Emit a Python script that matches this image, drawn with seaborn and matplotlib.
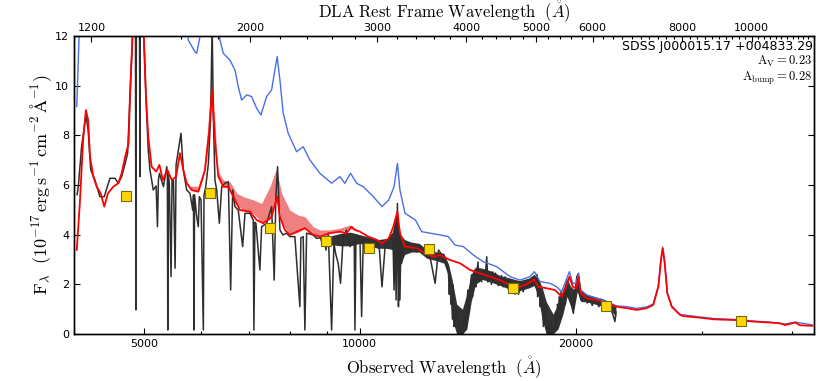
import numpy as np
import pandas as pd
import matplotlib
matplotlib.use('Agg')
import matplotlib.pyplot as plt
import seaborn as sns
from matplotlib.ticker import FixedLocator, FixedFormatter, NullFormatter, MultipleLocator

sns.set_style('ticks')
plt.rcParams.update({
    'font.family': ['DejaVu Sans'],
    'mathtext.fontset': 'cm',
    'text.color': 'black', 'axes.labelcolor': 'black', 'axes.edgecolor': 'black',
    'xtick.color': 'black', 'ytick.color': 'black',
    'xtick.direction': 'in', 'ytick.direction': 'in',
    'xtick.top': True, 'ytick.right': True,
    'xtick.major.size': 4, 'ytick.major.size': 4,
    'xtick.minor.size': 2.5, 'ytick.minor.size': 2.5,
    'xtick.minor.width': 0.8, 'xtick.major.width': 0.8, 'ytick.major.width': 0.8,
    'xtick.labelsize': 8, 'ytick.labelsize': 8,
    'axes.linewidth': 1.0,
})

ZF = 3.52  # 1 + z of the DLA

# observed spectrum (black)
wave_obs = [4034, 4050, 4093, 4150, 4180, 4215, 4272, 4341, 4402, 4483, 4557, 4605, 4655, 4708,
            4745, 4781, 4818, 4840, 4865, 4873, 4881, 4928, 4936, 4944, 4984, 5000, 5033, 5070,
            5098, 5152, 5200, 5222, 5238, 5255, 5323, 5380, 5391, 5398, 5407, 5425, 5455, 5473,
            5497, 5527, 5544, 5585, 5632, 5674, 5736, 5797, 5848, 5863, 5872, 5883, 5923, 5954,
            5973, 6006, 6051, 6064, 6098, 6150, 6191, 6201, 6225, 6247, 6281, 6316, 6370, 6419,
            6487, 6557, 6606, 6649, 6698, 6769, 6865, 6917, 7027, 7102, 7118, 7141, 7164, 7256,
            7296, 7414, 7534, 7597, 7638, 7680, 7738, 7812, 7906, 7989, 8118, 8250, 8277, 8338,
            8384, 8430, 8610, 8705, 8798, 8942, 8971, 9038, 9135, 9202, 9260, 9330, 9401, 9480,
            9583, 9688, 9823, 9845, 9877, 9918, 10004, 10059, 10112, 10278, 10400, 10563, 10650,
            10738, 10856, 11015, 11125, 11163, 11200, 11237, 11285, 11322, 11348, 11375, 11413,
            11439, 11488, 11630, 11750, 11888, 12000, 12133, 12333, 12529, 12737, 12876, 13075,
            13290, 13330, 13360, 13400, 13433, 13470, 13490, 13530, 13578, 13620, 13665, 13700,
            13723, 13760, 13800, 13840, 13890, 13942, 13980, 14020, 14060, 14094, 14120, 14150,
            14200, 14247, 14280, 14320, 14360, 14399, 14440, 14480, 14520, 14556, 14615, 14660,
            14710, 14780, 14868, 14950, 15031, 15090, 15140, 15192, 15260, 15330, 15400, 15460,
            15524, 15600, 15686, 15760, 15850, 15940, 16030, 16120, 16200, 16290, 16373, 16460,
            16550, 16640, 16727, 16800, 16900, 17000, 17089, 17180, 17300, 17400, 17500, 17600,
            17650, 17700, 17744, 17800, 17850, 17900, 17934, 17980, 18030, 18080, 18130, 18180,
            18230, 18280, 18327, 18380, 18430, 18500, 18560, 18620, 18715, 18780, 18820, 18870,
            18917, 18970, 19020, 19080, 19130, 19227, 19300, 19350, 19400, 19477, 19560, 19640,
            19720, 19855, 19950, 20075, 20180, 20250, 20330, 20450, 20615, 20750, 20941, 21100,
            21250, 21398, 21550, 21700, 21858, 22000, 22150, 22330, 22500, 22690, 22763]
flux_obs = [5.60, 5.93, 7.54, 8.82, 8.22, 6.61, 6.20, 5.53, 5.53, 6.27, 6.27, 6.07, 6.34, 6.87,
            7.28, 9.56, 11.84, 14.0, 14.0, 0.97, 14.0, 14.0, 6.34, 14.0, 13.0, 11.84, 9.56, 7.41,
            6.61, 5.80, 5.96, 4.32, 6.20, 6.47, 5.93, 6.74, 6.40, 0.16, 6.40, 6.07, 2.31, 6.20,
            6.20, 2.65, 6.81, 7.41, 8.08, 6.61, 5.80, 5.67, 4.99, 5.60, 0.16, 5.60, 4.72, 4.32,
            5.53, 5.40, 0.16, 5.60, 5.93, 6.87, 8.60, 9.56, 12.5, 8.89, 6.20, 5.80, 4.46, 5.93,
            6.07, 6.13, 1.77, 5.80, 5.13, 4.99, 3.52, 4.86, 4.86, 4.59, 0.16, 4.50, 4.46, 2.58,
            4.32, 4.46, 5.13, 2.17, 5.53, 6.74, 4.19, 3.99, 4.06, 3.92, 3.92, 1.10, 3.87, 3.92,
            0.16, 4.06, 3.99, 3.85, 3.87, 3.65, 3.38, 4.06, 0.16, 3.65, 3.20, 2.85, 2.04, 3.92,
            4.19, 3.52, 3.79, 0.16, 3.79, 3.92, 3.92, 0.70, 3.79, 3.79, 3.55, 3.65, 3.40,
            1.90, 3.65, 3.92, 3.79, 1.77, 4.39, 1.37, 5.26, 1.10, 4.19, 1.37, 3.79,
            2.85, 3.58, 3.65, 3.35, 3.52, 3.30, 3.52, 3.25, 3.11, 2.04, 3.38, 3.11,
            2.58, 1.60, 2.30, 1.20, 1.50, 0.60, 1.97, 0.30, 0.43, 1.10, 0.97, 0.10,
            0.03, 0.60, 0.10, 0.36, 0.05, 0.03, 0.50, 0.77, 0.20, 0.70, 1.40, 1.77,
            0.90, 1.50, 2.10, 2.38, 1.50, 1.90, 2.40, 2.58, 1.90, 2.31, 2.90, 2.10,
            2.44, 2.10, 2.58, 2.20, 3.11, 2.09, 2.50, 2.31, 2.00, 2.50, 2.10, 2.45,
            2.31, 1.95, 2.04, 2.35, 1.90, 2.30, 2.17, 1.80, 2.20, 1.70, 1.90, 1.60,
            2.05, 1.60, 1.77, 2.00, 1.70, 2.05, 1.90, 1.90, 2.20, 2.00, 2.31, 1.90,
            2.40, 1.50, 1.64, 2.10, 1.10, 1.70, 0.97, 1.40, 0.30, 1.20, 0.43, 0.90,
            0.05, 0.60, 0.03, 0.40, 0.02, 0.50, 0.05, 0.30, 0.16, 0.90, 0.20, 1.20,
            0.70, 1.50, 0.60, 1.70, 0.90, 1.10, 1.80, 1.20, 2.00, 2.17, 1.50, 1.64,
            1.20, 0.83, 1.60, 2.31, 2.44, 1.70, 1.37, 1.70, 1.50, 1.25, 1.37, 1.15,
            1.45, 1.30, 1.10, 1.40, 1.24, 0.95, 1.30, 1.04, 0.85, 0.50, 0.90]

# spread of the noisy near-IR part of the observed spectrum
env_wave = [8800, 9100, 9400, 9700, 10000, 10300, 10600, 10900, 11100, 11250, 11400, 11550,
            11800, 12100, 12400, 12800, 13100, 13300, 13450, 13650, 13900, 14100, 14300, 14500,
            14800, 15200, 15700, 16200, 16700, 17200, 17500, 17750, 17950, 18200, 18600, 18900,
            19200, 19450, 19700, 19900, 20100, 20350, 20700, 21300, 21900, 22400, 22760]
env_lo = [3.75, 3.60, 3.55, 3.55, 3.65, 3.55, 3.45, 3.45, 3.40, 3.00, 2.80, 3.20,
          3.30, 3.30, 3.05, 2.95, 2.85, 2.30, 0.60, 0.00, 0.00, 0.20, 1.30, 2.00,
          2.20, 2.10, 1.95, 1.80, 1.75, 1.85, 1.95, 1.50, 0.60, 0.00, 0.00, 0.20,
          0.80, 1.50, 1.10, 1.00, 1.70, 1.30, 1.30, 1.20, 1.10, 0.95, 0.70]
env_hi = [3.95, 3.95, 4.05, 4.10, 4.00, 3.90, 3.80, 3.85, 4.10, 4.90, 4.00, 3.80,
          3.70, 3.65, 3.40, 3.30, 3.25, 2.80, 2.20, 1.20, 1.00, 1.60, 2.40, 2.70,
          2.65, 2.55, 2.35, 2.25, 2.15, 2.25, 2.40, 2.20, 1.90, 1.30, 0.80, 1.20,
          1.80, 2.20, 1.90, 1.80, 2.30, 1.70, 1.60, 1.50, 1.40, 1.25, 1.10]

# reddened model (red)
wave_model = [4030, 4070, 4113, 4150, 4180, 4205, 4250, 4297, 4351, 4402, 4455, 4531, 4605, 4655,
              4708, 4760, 4781, 4818, 4870, 5000, 5033, 5070, 5125, 5200, 5255, 5313, 5391, 5467,
              5544, 5614, 5674, 5736, 5829, 5954, 6084, 6169, 6221, 6281, 6349, 6452, 6557, 6662,
              6806, 7027, 7180, 7333, 7534, 7670, 7738, 7862, 7989, 8163, 8384, 8610, 8798, 9084,
              9380, 9583, 9741, 9845, 10004, 10278, 10563, 10738, 10976, 11137, 11285, 11375,
              11565, 12022, 12333, 12666, 12935, 13360, 13795, 14247, 14710, 15192, 15686, 16200,
              16727, 17180, 17500, 17744, 18230, 18715, 19125, 19395, 19604, 19817, 20030, 20180,
              20330, 20728, 21398, 22100, 22815, 23560, 24330, 25120, 25660, 26080, 26305, 26450,
              26620, 26845, 27225, 27960, 28260, 29510, 31200, 33530, 35380, 37300, 38545, 39200,
              40500, 41100, 42810]
flux_model = [3.38, 5.26, 7.81, 9.02, 8.62, 7.14, 6.34, 5.93, 5.67, 5.13, 5.67, 5.93, 6.07, 6.47,
              7.14, 7.68, 9.56, 11.84, 18.0, 11.84, 9.56, 7.95, 6.74, 6.54, 6.81, 6.20, 6.61, 6.20,
              6.34, 7.28, 6.61, 6.07, 5.80, 5.73, 6.61, 8.22, 9.83, 7.81, 6.34, 5.93, 5.93, 5.53,
              4.99, 4.93, 4.59, 4.46, 4.72, 5.53, 4.72, 4.19, 3.99, 4.12, 4.26, 3.99, 3.92, 4.06,
              4.12, 4.06, 4.32, 4.19, 4.12, 3.92, 3.79, 3.65, 3.85, 4.32, 4.93, 4.06,
              3.52, 3.45, 3.25, 3.11, 3.18, 2.98, 2.85, 2.58, 2.44, 2.31, 2.17, 1.97,
              1.90, 2.04, 2.20, 1.90, 1.84, 1.77, 1.50, 1.90, 2.31, 1.90, 1.84, 2.31,
              1.64, 1.44, 1.37, 1.24, 1.10, 1.04, 0.97, 1.04, 1.17, 1.90, 2.98, 3.45,
              2.85, 1.64, 1.10, 0.77, 0.72, 0.67, 0.59, 0.56, 0.50, 0.46, 0.43, 0.36,
              0.46, 0.35, 0.33]

# intrinsic (unreddened) model (blue)
wave_intr = [4030, 4060, 4150, 4820, 5000, 5614, 5765, 5797, 5890, 5923, 5986, 6200, 6382, 6452,
             6591, 6698, 6769, 6843, 6955, 7066, 7180, 7280, 7414, 7534, 7614, 7670, 7738, 7820,
             7947, 8163, 8338, 8519, 8798, 9135, 9380, 9531, 9710, 9899, 10112, 10446, 10738,
             10976, 11163, 11285, 11375, 11565, 11955, 12200, 12529, 12935, 13290, 13578, 13942,
             14399, 14868, 15524, 16200, 16727, 17274, 17517, 17836, 18420, 18820, 19125, 19395,
             19604, 19817, 20030, 20180, 20330, 20728, 21398, 22100, 22815, 23560, 24330, 25120,
             25660, 26080, 26305, 26450, 26620, 26845, 27225, 27960, 29510, 31200, 33530, 35380,
             37300, 39200, 40500, 42810]
flux_intr = [9.15, 11.97, 22.0, 40.0, 25.0, 18.0, 11.84, 11.71, 11.37, 11.30, 11.97, 16.0, 11.84,
             11.30, 11.03, 10.63, 9.96, 9.42, 9.63, 9.56, 9.09, 8.82, 9.56, 9.83, 10.63, 11.17,
             10.23, 8.89, 8.08, 7.34, 7.54, 7.01, 6.47, 6.07, 6.34, 6.07, 6.47, 6.07, 5.93, 5.53,
             5.13, 5.40, 5.93, 6.87, 5.80, 4.86, 4.59, 4.12, 4.06, 3.99, 3.92, 3.58, 3.52, 3.18,
             2.91, 2.71, 2.31, 2.17, 2.31, 2.51, 2.11, 2.04, 1.90, 1.70, 2.17, 2.51, 2.04, 2.04,
             2.44, 1.77, 1.57, 1.44, 1.30, 1.13, 1.10, 1.03, 1.09, 1.21, 1.93, 3.02, 3.50, 2.88,
             1.65, 1.13, 0.79, 0.70, 0.62, 0.58, 0.52, 0.48, 0.40, 0.48, 0.36]

# model uncertainty band (pink)
band_wave = [5736, 5797, 5954, 6051, 6120, 6169, 6221, 6281, 6316, 6349, 6452, 6591, 6734, 6879,
             7102, 7296, 7493, 7638, 7670, 7780, 7989, 8205, 8384, 8610, 8798, 9084, 9380, 9688,
             10004]
band_lo = [6.07, 5.80, 5.73, 6.30, 7.30, 8.22, 9.83, 7.81, 6.90, 6.34, 5.93, 5.85, 5.20, 4.97,
           4.85, 4.50, 4.60, 5.30, 5.53, 4.50, 3.99, 4.10, 4.26, 3.99, 3.92, 4.06, 4.12, 4.25,
           4.12]
band_hi = [6.15, 5.95, 5.95, 6.55, 7.90, 9.20, 10.25, 8.60, 7.20, 6.55, 6.20, 6.13, 5.67, 5.53,
           5.40, 5.26, 5.93, 6.61, 6.50, 5.67, 4.99, 4.79, 4.72, 4.32, 4.19, 4.19, 4.26, 4.39,
           4.12]

# photometry (yellow squares)
phot_wave = [4723, 6181, 7493, 8962, 10312, 12500, 16373, 22048, 33970]
phot_flux = [5.57, 5.69, 4.26, 3.76, 3.45, 3.41, 1.86, 1.14, 0.54]

# axis ticks
obs_ticks = [5000, 10000, 20000]
obs_minor = [6000, 7000, 8000, 9000, 30000, 40000]
rest_ticks = [1200, 2000, 3000, 4000, 5000, 6000, 8000, 10000]

xmin, xmax = 3995, 42990

fig, ax = plt.subplots(figsize=(8.30, 3.81), dpi=100)
fig.subplots_adjust(left=0.0892, right=0.9807, bottom=0.1234, top=0.9055)
ax.set_xscale('log')

ax.fill_between(band_wave, band_lo, band_hi, color='#f08080', lw=0, zorder=1)
ax.fill_between(env_wave, env_lo, env_hi, color='#333333', lw=0, zorder=2)
obs = pd.DataFrame({'wave': wave_obs, 'flux': flux_obs})
sns.lineplot(data=obs, x='wave', y='flux', ax=ax, color='#2e2e2e', lw=1.1,
             estimator=None, sort=False, zorder=2)
intr = pd.DataFrame({'wave': wave_intr, 'flux': flux_intr})
sns.lineplot(data=intr, x='wave', y='flux', ax=ax, color='#4a6fe3', lw=1.0,
             estimator=None, sort=False, zorder=3)
mod = pd.DataFrame({'wave': wave_model, 'flux': flux_model})
sns.lineplot(data=mod, x='wave', y='flux', ax=ax, color='#ff0000', lw=1.3,
             estimator=None, sort=False, zorder=4)
phot = pd.DataFrame({'wave': phot_wave, 'flux': phot_flux})
sns.scatterplot(data=phot, x='wave', y='flux', ax=ax, marker='s', s=55,
                color='#ffd700', edgecolor='#7a6a10', linewidth=0.8, zorder=5)

ax.set_xlim(xmin, xmax)
ax.set_ylim(0, 12)
ax.set_yticks([0, 2, 4, 6, 8, 10, 12])
ax.xaxis.set_major_locator(FixedLocator(obs_ticks))
ax.xaxis.set_major_formatter(FixedFormatter([str(t) for t in obs_ticks]))
ax.xaxis.set_minor_locator(FixedLocator(obs_minor))
ax.xaxis.set_minor_formatter(NullFormatter())
ax.tick_params(axis='x', which='both', top=False, bottom=True, direction='in')
ax.tick_params(axis='y', which='both', left=True, right=True, direction='in')
ax.set_xlabel(r'$\mathrm{Observed\ Wavelength}\ \ (\mathring{A})$', fontsize=12, labelpad=4)
ax.set_ylabel(r'$\mathrm{F}_\lambda\ \ (10^{-17}\,\mathrm{erg\,s^{-1}\,cm^{-2}\,\AA^{-1}})$',
              fontsize=13, labelpad=1)

ax2 = ax.twiny()
ax2.set_xscale('log')
ax2.set_xlim(xmin / ZF, xmax / ZF)
ax2.xaxis.set_major_locator(FixedLocator(rest_ticks))
ax2.xaxis.set_major_formatter(FixedFormatter([str(t) for t in rest_ticks]))
ax2.xaxis.set_minor_locator(MultipleLocator(200))
ax2.xaxis.set_minor_formatter(NullFormatter())
ax2.tick_params(axis='x', which='both', direction='in', labelsize=8, pad=2)
ax2.set_xlabel(r'$\mathrm{DLA\ Rest\ Frame\ Wavelength}\ \ (\mathring{A})$', fontsize=12, labelpad=4)

ax.text(0.998, 0.985, 'SDSS J000015.17 +004833.29', transform=ax.transAxes,
        ha='right', va='top', fontsize=9)
ax.text(0.998, 0.915, r'$\mathrm{A_V} = 0.23$', transform=ax.transAxes,
        ha='right', va='center', fontsize=9)
ax.text(0.998, 0.857, r'$\mathrm{A_{bump}} = 0.28$', transform=ax.transAxes,
        ha='right', va='center', fontsize=9)

fig.savefig('out.png', dpi=100)
